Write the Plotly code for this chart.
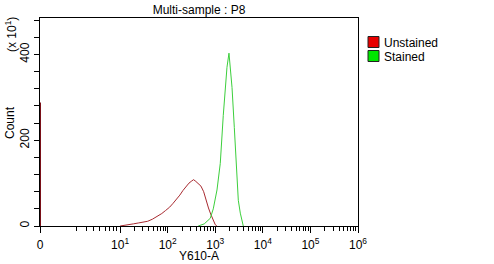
import math
import plotly.graph_objects as go

# ---- data ----
unstained_zero_count = 288          # pile-up at channel 0 (x10 counts)
unstained_values = [10, 12, 15, 19, 24, 30, 38, 48, 60, 75, 90, 110, 130, 155, 180, 210,
                    240, 280, 320, 350, 390, 440, 500, 570, 640, 720, 800, 900, 1000, 1080]
unstained_counts = [0, 1, 3, 5, 7, 9, 11, 16, 22, 29, 36, 44, 53, 62, 72, 83,
                    92, 100, 105, 108, 104, 98, 93, 80, 60, 42, 28, 14, 3, 0]

stained_values = [438, 587, 785, 908, 1087, 1274, 1473, 1762, 1942, 2069, 2249, 2513,
                  2770, 3050, 3360, 3881]
stained_counts = [0, 5, 18, 40, 84, 146, 258, 370, 403, 375, 323, 230,
                  150, 60, 30, 0]

series_names = ["Unstained", "Stained"]
x_tick_values = [0, 10, 100, 1000, 10000, 100000, 1000000]
x_tick_labels = ["0", "10<sup>1</sup>", "10<sup>2</sup>", "10<sup>3</sup>",
                 "10<sup>4</sup>", "10<sup>5</sup>", "10<sup>6</sup>"]
y_tick_values = [0, 200, 400]
y_max = 485

# ---- display transform: biexponential-like (compressed below 10, log above) ----
P0 = -0.684


def f(v):
    if v is None:
        return None
    if v >= 10:
        return math.log10(v)
    return P0 + (1 - P0) * math.log10(1 + v) / math.log10(11)


minor_x = [k for k in range(2, 10)] + [k * 10 ** d for d in range(1, 6) for k in range(2, 10)]

RED_LINE = "#a82a30"
GREEN_LINE = "#3ccf3c"
SWATCHES = ["#e80000", "#00e800"]
FONT = "Arial, Liberation Sans, sans-serif"

W, H = 494, 264
L, R, T, B = 40, 136, 18, 38
PW, PH = W - L - R, H - T - B

fig = go.Figure()
fig.add_trace(go.Scatter(x=[f(0), f(0)], y=[0, unstained_zero_count], mode="lines",
                         line=dict(color="#7a1018", width=2), showlegend=False, hoverinfo="skip"))
fig.add_trace(go.Scatter(x=[f(v) for v in unstained_values], y=unstained_counts, mode="lines",
                         name=series_names[0], line=dict(color=RED_LINE, width=1), showlegend=False))
fig.add_trace(go.Scatter(x=[f(v) for v in stained_values], y=stained_counts, mode="lines",
                         name=series_names[1], line=dict(color=GREEN_LINE, width=1), showlegend=False))


def px_x(px):
    return (px - L) / PW


def px_y(py):
    return 1 - (py - T) / PH


shapes = []
annotations = []
# manual legend: square swatches + labels
for i, (name, col) in enumerate(zip(series_names, SWATCHES)):
    cy = 42 + 14 * i
    shapes.append(dict(type="rect", xref="paper", yref="paper",
                       x0=px_x(368), x1=px_x(379), y0=px_y(cy + 5.5), y1=px_y(cy - 5.5),
                       fillcolor=col, line=dict(color="#222222", width=1)))
    annotations.append(dict(text=name, xref="paper", yref="paper", x=px_x(382), y=px_y(cy + 1),
                            xanchor="left", yanchor="middle", showarrow=False,
                            font=dict(size=12)))

annotations.append(dict(text="(x 10<sup>1</sup>)", textangle=-90, xref="paper", yref="paper",
                        x=px_x(11), y=px_y(35), xanchor="center", yanchor="middle",
                        showarrow=False, font=dict(size=12)))
annotations.append(dict(text="Count", textangle=-90, xref="paper", yref="paper",
                        x=px_x(10), y=px_y(122), xanchor="center", yanchor="middle",
                        showarrow=False, font=dict(size=12)))
annotations.append(dict(text="Y610-A", xref="paper", yref="paper",
                        x=px_x(199), y=px_y(264), xanchor="center", yanchor="bottom",
                        showarrow=False, borderpad=0, font=dict(size=12)))

fig.update_layout(
    width=W, height=H,
    margin=dict(l=L, r=R, t=T, b=B, autoexpand=False),
    paper_bgcolor="white", plot_bgcolor="white",
    font=dict(family=FONT, size=12, color="black"),
    title=dict(text="Multi-sample : P8", x=199 / W, xanchor="center",
               y=1 - 10 / H, yanchor="middle", font=dict(size=12)),
    showlegend=False,
    xaxis=dict(
        range=[f(0), 6], showgrid=False, zeroline=False, automargin=False,
        showline=True, linecolor="black", linewidth=1, mirror=True,
        tickmode="array", tickvals=[f(v) for v in x_tick_values], ticktext=x_tick_labels,
        ticks="outside", ticklen=6, tickcolor="black", tickwidth=1,
        ticklabelstandoff=2,
        minor=dict(tickmode="array", tickvals=[f(v) for v in minor_x], ticks="outside",
                   ticklen=4, tickcolor="black", tickwidth=1),
        tickfont=dict(size=12),
    ),
    yaxis=dict(
        range=[0, y_max], showgrid=False, zeroline=False, automargin=False,
        showline=True, linecolor="black", linewidth=1, mirror=True,
        tickmode="array", tickvals=y_tick_values, ticktext=[str(v) for v in y_tick_values],
        tickangle=-90,
        ticks="outside", ticklen=5, tickcolor="black", tickwidth=1,
        minor=dict(dtick=40, tick0=0, ticks="outside", ticklen=5, tickcolor="black", tickwidth=1),
        tickfont=dict(size=12),
    ),
    shapes=shapes,
    annotations=annotations,
)

fig.write_html("out.html")
